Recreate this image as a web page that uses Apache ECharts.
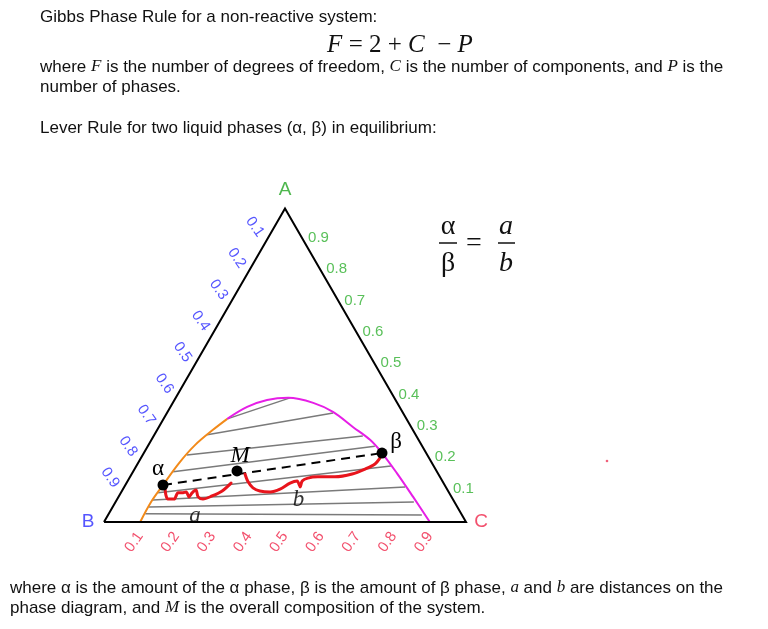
<!DOCTYPE html>
<html><head><meta charset="utf-8">
<script src="https://cdn.jsdelivr.net/npm/echarts@6/dist/echarts.min.js"></script>
<style>html,body{margin:0;padding:0;background:#fff}#c{width:768px;height:629px}</style>
</head><body><div id="c"></div>
<script>
// ---- data: ternary compositions given as [A fraction, C fraction] ----
const binodalLeft = [[0,0.10],[0.064,0.098],[0.118,0.104],[0.191,0.114],[0.246,0.129],[0.294,0.154],[0.329,0.176]];
const binodalRight = [[0.329,0.176],[0.367,0.212],[0.389,0.256],[0.396,0.311],[0.380,0.388],[0.351,0.457],[0.303,0.536],[0.262,0.604],[0.220,0.658],[0.156,0.731],[0.080,0.814],[0,0.90]];
const tieLeft  = [[0.329,0.176],[0.278,0.146],[0.214,0.122],[0.160,0.111],[0.093,0.103],[0.070,0.100],[0.048,0.100],[0.026,0.101]];
const tieRight = [[0.396,0.316],[0.348,0.459],[0.274,0.578],[0.242,0.627],[0.179,0.703],[0.112,0.776],[0.064,0.824],[0.022,0.867]];
const alphaPt = [0.118,0.104];
const mixPt   = [0.163,0.286];
const betaPt  = [0.220,0.658];
const strokeA = [[0.109,0.114],[0.086,0.128],[0.073,0.140],[0.073,0.157],[0.093,0.158],[0.093,0.169],[0.096,0.179],[0.080,0.195],[0.093,0.197],[0.102,0.203],[0.080,0.220],[0.073,0.237],[0.083,0.257],[0.099,0.277],[0.124,0.289]];
const strokeB = [[0.153,0.313],[0.128,0.334],[0.109,0.357],[0.099,0.381],[0.096,0.411],[0.105,0.434],[0.124,0.452],[0.131,0.468],[0.112,0.486],[0.131,0.482],[0.140,0.493],[0.144,0.519],[0.144,0.566],[0.153,0.609],[0.169,0.637],[0.185,0.656],[0.204,0.660]];
const tickValues = [0.1,0.2,0.3,0.4,0.5,0.6,0.7,0.8,0.9];
const tickLabels = ['0.1','0.2','0.3','0.4','0.5','0.6','0.7','0.8','0.9'];

// ---- layout constants ----
const OX = 104, OY = 522, SIDE = 362, W = 768, H = 629;
const H3 = Math.sqrt(3) / 2;
function xy(p) { const a = p[0], c = p[1]; return [c + a / 2, a * H3]; }
function shift(pt, dx, dy) { return [pt[0] + dx / SIDE, pt[1] - dy / SIDE]; }

const triangle = [[0,0],[0,1],[1,0],[0,0]].map(xy);
const tieData = tieLeft.map((l, i) => ({ coords: [xy(l), xy(tieRight[i])] }));

const RED = '#ef2448', GREEN = '#2fb02f', BLUE = '#2a2aff';
const serif = '"Liberation Serif", "DejaVu Serif", serif';
const sans = '"Liberation Sans", Arial, sans-serif';
const INK = '#111';

const bottomLabels = tickValues.map((t, i) => ({ value: shift(xy([0, t]), -6, 20), name: tickLabels[i] }));
const rightLabels = tickValues.map((t, i) => ({ value: shift(xy([t, 1 - t]), 5, -2), name: tickLabels[i] }));
const leftLabels = tickValues.map((t, i) => ({ value: shift(xy([1 - t, 0]), -12, -13), name: tickLabels[i] }));

function labelSeries(data, color, rotate, position, align) {
  return {
    type: 'scatter', data: data, symbolSize: 0, silent: true, clip: false,
    label: { show: true, formatter: p => p.name, color: color, fontSize: 15, fontFamily: sans,
      position: position, distance: 0, rotate: rotate, align: align, verticalAlign: 'middle' }
  };
}

const chart = echarts.init(document.getElementById('c'));
chart.setOption({
  animation: false,
  grid: { left: 0, top: 0, right: 0, bottom: 0 },
  xAxis: { type: 'value', min: -OX / SIDE, max: (W - OX) / SIDE, show: false },
  yAxis: { type: 'value', min: -(H - OY) / SIDE, max: OY / SIDE, show: false },
  series: [
    { type: 'lines', coordinateSystem: 'cartesian2d', data: tieData, silent: true,
      lineStyle: { color: '#7a7a7a', width: 1.5, opacity: 1 } },
    { type: 'line', data: binodalLeft.map(xy), smooth: 0.35, symbol: 'none', lineStyle: { color: '#f28a1a', width: 2 } },
    { type: 'line', data: binodalRight.map(xy), smooth: 0.35, symbol: 'none', lineStyle: { color: '#e61ee6', width: 2 } },
    { type: 'line', data: triangle, symbol: 'none', lineStyle: { color: '#000', width: 2, join: 'miter' } },
    { type: 'line', data: [xy(alphaPt), xy(betaPt)], symbol: 'none', lineStyle: { color: '#000', width: 2, type: [9, 6] } },
    { type: 'line', data: strokeA.map(xy), smooth: 0.3, symbol: 'none', lineStyle: { color: '#e8141c', width: 3, cap: 'round', join: 'round' } },
    { type: 'line', data: strokeB.map(xy), smooth: 0.3, symbol: 'none', lineStyle: { color: '#e8141c', width: 3, cap: 'round', join: 'round' } },
    { type: 'scatter', symbolSize: 11, itemStyle: { color: '#000', opacity: 1 }, z: 5,
      data: [
        { value: xy(alphaPt), label: { formatter: 'α', offset: [-5, -16] } },
        { value: xy(mixPt), label: { formatter: 'M', fontStyle: 'italic', offset: [3, -15] } },
        { value: xy(betaPt), label: { formatter: 'β', offset: [14, -11] } }
      ],
      label: { show: true, position: 'inside', color: '#000', fontSize: 23, fontFamily: serif } },
    { type: 'scatter', symbolSize: 0, clip: false,
      data: [
        { value: [(xy(alphaPt)[0] + xy(mixPt)[0]) / 2, (xy(alphaPt)[1] + xy(mixPt)[1]) / 2], label: { formatter: 'a', offset: [-5, 38] } },
        { value: [(xy(mixPt)[0] + xy(betaPt)[0]) / 2, (xy(mixPt)[1] + xy(betaPt)[1]) / 2], label: { formatter: 'b', offset: [-11, 38] } }
      ],
      label: { show: true, position: 'inside', color: '#000', fontSize: 23, fontStyle: 'italic', fontFamily: serif } },
    labelSeries(bottomLabels, RED, 55, 'inside', 'center'),
    labelSeries(rightLabels, GREEN, 0, 'right', 'left'),
    labelSeries(leftLabels, BLUE, -55, 'inside', 'center'),
    { type: 'scatter', symbolSize: 0, clip: false,
      data: [
        { value: shift(xy([1, 0]), 0, -19), label: { formatter: 'A', color: '#22a522' } },
        { value: shift(xy([0, 0]), -16, 0), label: { formatter: 'B', color: BLUE } },
        { value: shift(xy([0, 1]), 15, 0), label: { formatter: 'C', color: RED } }
      ],
      label: { show: true, position: 'inside', fontSize: 19, fontFamily: sans } }
  ],
  graphic: [
    { type: 'text', x: 40, y: 17, style: { text: 'Gibbs Phase Rule for a non-reactive system:', verticalAlign: 'middle', font: '17px ' + sans, fill: INK } },
    { type: 'text', x: 400, y: 45, style: { text: '{m|F} = 2 + {m|C}  − {m|P}', align: 'center', verticalAlign: 'middle', font: '25px ' + serif, fill: INK,
      rich: { m: { fontStyle: 'italic', fontSize: 25, fontFamily: serif } } } },
    { type: 'text', x: 40, y: 67, style: { text: 'where {m|F} is the number of degrees of freedom, {m|C} is the number of components, and {m|P} is the', verticalAlign: 'middle', font: '17px ' + sans, fill: INK,
      rich: { m: { fontStyle: 'italic', fontSize: 17, fontFamily: serif } } } },
    { type: 'text', x: 40, y: 87, style: { text: 'number of phases.', verticalAlign: 'middle', font: '17px ' + sans, fill: INK } },
    { type: 'text', x: 40, y: 128, style: { text: 'Lever Rule for two liquid phases (α, β) in equilibrium:', verticalAlign: 'middle', font: '17px ' + sans, fill: INK } },
    { type: 'text', x: 10, y: 588, style: { text: 'where α is the amount of the α phase, β is the amount of β phase, {m|a} and {m|b} are distances on the', verticalAlign: 'middle', font: '17px ' + sans, fill: INK,
      rich: { m: { fontStyle: 'italic', fontSize: 17, fontFamily: serif } } } },
    { type: 'text', x: 10, y: 608, style: { text: 'phase diagram, and {m|M} is the overall composition of the system.', verticalAlign: 'middle', font: '17px ' + sans, fill: INK,
      rich: { m: { fontStyle: 'italic', fontSize: 17, fontFamily: serif } } } },
    { type: 'text', x: 448, y: 227, style: { text: 'α', align: 'center', verticalAlign: 'middle', font: '28px ' + serif, fill: INK } },
    { type: 'line', shape: { x1: 439, y1: 243, x2: 457, y2: 243 }, style: { stroke: INK, lineWidth: 1.5 } },
    { type: 'text', x: 448, y: 264, style: { text: 'β', align: 'center', verticalAlign: 'middle', font: '28px ' + serif, fill: INK } },
    { type: 'text', x: 474, y: 244, style: { text: '=', align: 'center', verticalAlign: 'middle', font: '28px ' + serif, fill: INK } },
    { type: 'text', x: 506, y: 227, style: { text: 'a', align: 'center', verticalAlign: 'middle', font: 'italic 28px ' + serif, fill: INK } },
    { type: 'line', shape: { x1: 498, y1: 243, x2: 515, y2: 243 }, style: { stroke: INK, lineWidth: 1.5 } },
    { type: 'text', x: 506, y: 264, style: { text: 'b', align: 'center', verticalAlign: 'middle', font: 'italic 28px ' + serif, fill: INK } },
    { type: 'circle', shape: { cx: 607, cy: 461, r: 1.3 }, style: { fill: '#f0607a' } }
  ]
});
</script></body></html>
